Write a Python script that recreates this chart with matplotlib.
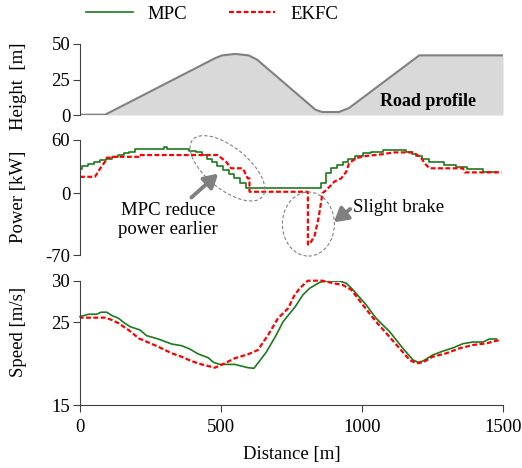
import numpy as np
import matplotlib
matplotlib.use("Agg")
import matplotlib.pyplot as plt
import matplotlib.transforms as mtransforms
from matplotlib.patches import Ellipse

plt.rcParams['font.family'] = ['Liberation Serif', 'DejaVu Serif']
plt.rcParams['font.size'] = 13.5
plt.rcParams['axes.unicode_minus'] = False

# road profile
road_x = [0, 89, 480, 504, 551, 598, 628, 835, 859, 918, 954, 1203, 1500]
road_h = [0.2, 0.2, 40.1, 42, 43, 42, 39, 3.7, 2.1, 2.1, 4.9, 42, 42]

# power (step, MPC)
mpc_px = [0, 8, 30, 51, 71, 92, 113, 135, 155, 173, 194, 297, 309, 387, 410, 433, 451,
          469, 487, 508, 528, 546, 569, 589, 855, 873, 889, 912, 932, 950, 974, 1004,
          1033, 1075, 1155, 1177, 1191, 1212, 1236, 1291, 1335, 1374, 1428, 1478]
mpc_p = [27, 31, 33, 35, 37.6, 39, 41, 43, 45, 46.7, 49.7, 52, 49.7, 47.8, 46, 43, 39,
         35.4, 31, 26, 22, 16.6, 11, 5.3, 11, 23, 28, 31.6, 35.4, 39, 42, 45,
         46.7, 48.6, 46.7, 44, 42, 39, 35.4, 31.6, 29, 27, 24, 24]
# power EKFC
ekfc_px = [0, 53, 72, 95, 95, 113, 113, 207, 207, 488, 518, 536, 577, 595, 601, 601,
           808, 808, 814, 832, 846, 860, 873, 891, 902, 926, 944, 954, 968, 986, 1016,
           1075, 1111, 1181, 1210, 1222, 1240, 1358, 1364, 1495]
ekfc_p = [18.4, 18.4, 28, 38.4, 40, 40, 41, 41, 43, 43, 35.4, 28, 28, 16.6, 16.6, 1.5,
          1.5, -58, -58, -48, -28, 0, 3.4, 9, 13, 16.6, 24, 33.5, 37, 40, 42,
          44, 46, 46, 40, 33.5, 28, 28, 23.4, 23.4]

# speed
mpc_sx = [0, 30, 59, 75, 95, 113, 137, 154, 178, 213, 236, 277, 325, 360, 389, 419, 455,
          473, 496, 549, 596, 617, 661, 696, 720, 764, 790, 814, 850, 873, 920, 944, 968,
          1015, 1050, 1098, 1145, 1181, 1199, 1216, 1251, 1287, 1323, 1358, 1393, 1429,
          1452, 1476]
mpc_v = [25.66, 25.95, 25.95, 26.2, 26.2, 25.8, 25.46, 24.98, 24.45, 24.05, 23.37, 22.97,
         22.36, 22.16, 21.76, 21.16, 20.7, 20.15, 19.9, 19.9, 19.5, 19.43, 21.4, 23.45,
         25.05, 26.9, 28.27, 29.08, 29.8, 29.96, 29.96, 29.7, 28.9, 27.07, 25.46, 23.85,
         21.84, 20.43, 20.15, 20.3, 21.04, 21.5, 21.9, 22.4, 22.6, 22.6, 22.97, 22.97]
ekfc_sx = [0, 3, 89, 113, 137, 172, 208, 236, 277, 325, 360, 395, 431, 478, 502, 549, 596,
           631, 667, 702, 738, 761, 779, 808, 861, 897, 932, 962, 1003, 1050, 1086, 1133,
           1169, 1193, 1216, 1251, 1299, 1346, 1393, 1441, 1488]
ekfc_v = [25.78, 25.54, 25.54, 25.26, 24.86, 24.05, 23.05, 22.64, 22.04, 21.24, 20.83,
          20.3, 19.9, 19.5, 19.85, 20.64, 21.12, 21.64, 23.45, 25.46, 26.67, 28.27, 29.08,
          30.0, 30.0, 29.7, 29.48, 28.9, 27.07, 25.05, 23.66, 21.84, 20.43, 20.03, 20.15,
          20.83, 21.24, 21.84, 22.24, 22.44, 22.85]

green = '#1c7a1c'
red = '#ff0000'
spc = '#404040'

fig = plt.figure(figsize=(5.22, 4.68), dpi=100)
L, W = 80 / 522, 423 / 522
ax1 = fig.add_axes([L, 1 - 115 / 468, W, 71 / 468])
ax2 = fig.add_axes([L, 1 - 255 / 468, W, 115 / 468])
ax3 = fig.add_axes([L, 1 - 405 / 468, W, 124.3 / 468])

for ax in (ax1, ax2, ax3):
    ax.set_xlim(0, 1500)
    for s in ('top', 'right', 'bottom'):
        ax.spines[s].set_visible(False)
    ax.spines['left'].set_color(spc)
    ax.tick_params(axis='y', direction='out', length=5, width=0.8, color=spc, pad=2)
    ax.set_xticks([])
ax3.spines['bottom'].set_visible(True)
ax3.spines['bottom'].set_color(spc)

# height
ax1.fill_between(road_x, road_h, 0, color='#d9d9d9', lw=0)
ax1.plot(road_x, road_h, color='#808080', lw=1.5)
ax1.set_ylim(0, 50)
ax1.set_yticks([0, 25, 50])
ax1.text(1234, 9.2, 'Road profile', ha='center', va='center', fontweight='bold', fontsize=13)

# power
l1, = ax2.step(mpc_px, mpc_p, where='post', color=green, lw=1.2, label='MPC')
l2, = ax2.plot(ekfc_px, ekfc_p, color=red, lw=1.6, ls=(0, (2.2, 1.1)), label='EKFC')
ax2.set_ylim(-70, 60)
ax2.set_yticks([-70, 0, 60])

def ell(ax, x, y, w, h, ang):
    tr = fig.dpi_scale_trans + mtransforms.ScaledTranslation(x, y, ax.transData)
    e = Ellipse((0, 0), w, h, angle=ang, transform=tr, fill=False, ec='#808080',
                lw=0.8, ls=(0, (3, 2)))
    fig.add_artist(e)

ell(ax2, 523, 28, 0.90, 0.42, -39)
ell(ax2, 810, -35, 0.52, 0.64, 0)
arr = dict(arrowstyle='-|>,head_length=0.6,head_width=0.35', color='#808080', lw=2.8,
           shrinkA=0, shrinkB=0)
ax2.annotate('', xy=(490, 22), xytext=(395, -5), arrowprops=arr)
ax2.annotate('', xy=(900, -33), xytext=(958, -18), arrowprops=arr)
ax2.text(313, -30.5, 'MPC reduce\npower earlier', ha='center', va='center', linespacing=1.1)
ax2.text(967, -16, 'Slight brake', ha='left', va='center')

# speed
ax3.plot(mpc_sx, mpc_v, color=green, lw=1.2)
ax3.plot(ekfc_sx, ekfc_v, color=red, lw=1.6, ls=(0, (2.2, 1.1)), clip_on=False)
ax3.set_ylim(15, 30)
ax3.set_yticks([15, 25, 30])
ax3.set_xticks([0, 500, 1000, 1500])
ax3.tick_params(axis='x', direction='out', length=5, width=0.8, color=spc, pad=5)
ax3.set_xlabel('Distance [m]', labelpad=7)

fig.text(19 / 522, 1 - 86 / 468, 'Height  [m]', rotation=90, ha='center', va='center')
fig.text(19 / 522, 1 - 197 / 468, 'Power [kW]', rotation=90, ha='center', va='center')
fig.text(19 / 522, 1 - 332 / 468, 'Speed [m/s]', rotation=90, ha='center', va='center')

fig.legend(handles=[l1, l2], loc='center', bbox_to_anchor=(212 / 522, 1 - 14 / 468),
           ncol=2, frameon=False, handlelength=2.5, columnspacing=2.2, handletextpad=0.8)

fig.savefig('out.png', dpi=100)
